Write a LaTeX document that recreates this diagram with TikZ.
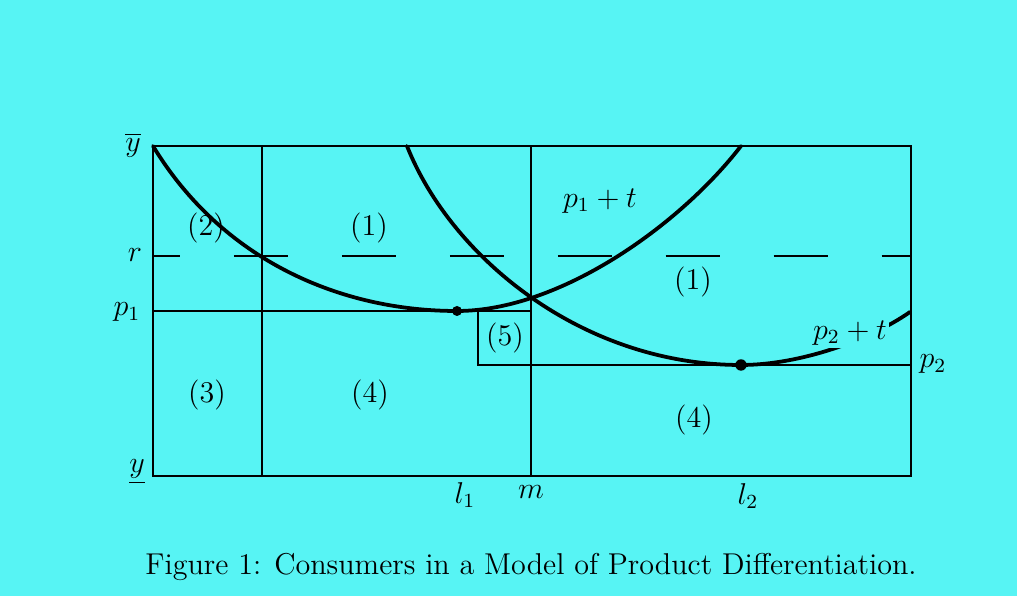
\documentclass[tikz,border=0pt]{standalone}
\usepackage{amsmath,amssymb}
\usepackage{tikz}
\usetikzlibrary{calc}
\definecolor{bg}{HTML}{57F4F4}
\tikzset{
 frame/.style={line width=1.1pt},
 curve/.style={line width=1.5pt,line cap=round},
 rline/.style={line width=0.8pt,dash pattern=on 7.56mm off 7.56mm,dash phase=3.78mm},
 lab/.style={inner sep=1pt}}

\begin{document}
\begin{tikzpicture}[x=0.014cm,y=-0.014cm,font=\large]
\fill[bg] (0,0) rectangle (1017,596);
\useasboundingbox (0,0) rectangle (1017,596);
% box and dividers
\draw[frame] (153,146) rectangle (911,476);
\draw[frame] (262,146) -- (262,476);
\draw[frame] (531,146) -- (531,476);
\draw[frame] (153,311) -- (531,311);
\draw[frame] (478,311) -- (478,365) -- (911,365);
\draw[rline] (153,256) -- (911,256);
% the two price curves
\draw[curve] (153,146) .. controls (222,260) and (340,311) .. (457,311)
 .. controls (560,311) and (680,225) .. (741,146);
\draw[curve] (407,146) .. controls (450,255) and (580,365) .. (741,365)
 .. controls (800,365) and (870,340) .. (910,312);
\fill (457,311) circle[radius=0.07cm];
\fill (741,365) circle[radius=0.08cm];
% axis labels
\node[lab] (ybar) at (133,145) {$\overline{y}$};
\node[lab] (r) at (135,255) {$r$};
\node[lab] (p1) at (127,312) {$p_1$};
\node[lab] (ylow) at (137,472) {$\underline{y}$};
\node[lab] (l1) at (465,495) {$l_1$};
\node[lab] (m) at (531,492) {$m$};
\node[lab] (l2) at (748,496) {$l_2$};
\node[lab] (p2) at (933,364) {$p_2$};
% regions
\node[lab] (r2) at (206,228) {(2)};
\node[lab] (r1a) at (369,228) {(1)};
\node[lab] (p1t) at (600,201) {$p_1+t$};
\node[lab] (r1b) at (693,282) {(1)};
\node[lab] (r5) at (505,338) {(5)};
\node[lab] (r3) at (207,395) {(3)};
\node[lab] (r4a) at (370,395) {(4)};
\node[lab] (r4b) at (694,420) {(4)};
\node[lab,fill=bg] (p2t) at (850,333) {$p_2+t$};
\node (cap) at (531,567) {Figure 1: Consumers in a Model of Product Differentiation.};
\end{tikzpicture}
\end{document}
